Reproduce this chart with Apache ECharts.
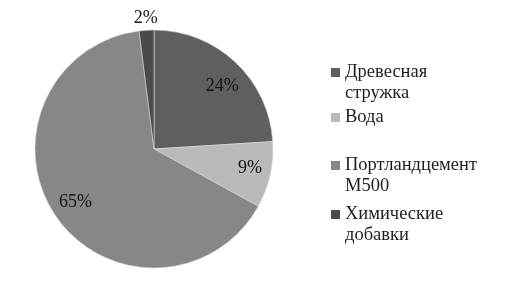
<!DOCTYPE html>
<html>
<head>
    <meta charset="utf-8">
    <script src="https://cdn.jsdelivr.net/npm/echarts@6/dist/echarts.min.js"></script>
</head>
<body style="margin:0;background:#fff">
    <div id="main" style="width:508px;height:296px;"></div>
    <script type="text/javascript">
        var names = ['Древесная стружка', 'Вода', 'Портландцемент M500', 'Химические добавки'];
        var legendText = ['Древесная\nстружка', 'Вода', 'Портландцемент\nM500', 'Химические\nдобавки'];
        var values = [24, 9, 65, 2];
        var colors = ['#5f5f5f', '#bababa', '#878787', '#4b4b4b'];

        var myChart = echarts.init(document.getElementById('main'));

        var cx = 154, cy = 149, R = 119;
        // label radius and small angle shift (deg): inside for big slices, outside for the small one
        var labelR = [93, 98, 95, 131];
        var labelShift = [4, -1, 0, 0];

        var legendTops = [41, 107, 134, 183];
        var legends = names.map(function (n, i) {
            var twoLines = legendText[i].indexOf('\n') >= 0;
            return {
                orient: 'vertical',
                left: 331,
                top: legendTops[i],
                padding: 0,
                data: [n],
                icon: 'rect',
                itemWidth: 9,
                itemHeight: 9,
                itemGap: 0,
                selectedMode: false,
                itemStyle: { borderWidth: 0 },
                // leading empty line keeps the icon level with the first line
                formatter: function () { return (twoLines ? '\n' : '') + legendText[i]; },
                textStyle: {
                    fontFamily: 'Liberation Serif',
                    fontSize: 18.5,
                    color: '#1e1e1e',
                    lineHeight: 21
                }
            };
        });

        var total = values.reduce(function (a, b) { return a + b; }, 0);

        option = {
            animation: false,
            color: colors,
            legend: legends,
            series: [{
                type: 'pie',
                center: [cx, cy],
                radius: R,
                startAngle: 90,
                clockwise: true,
                data: names.map(function (n, i) { return { name: n, value: values[i] }; }),
                itemStyle: { borderColor: '#d8d8d8', borderWidth: 0.6 },
                label: {
                    position: 'inside',
                    formatter: '{c}%',
                    fontFamily: 'Liberation Serif',
                    fontSize: 18,
                    color: '#141414'
                },
                labelLine: { show: false },
                labelLayout: function (params) {
                    var i = params.dataIndex;
                    var before = 0;
                    for (var k = 0; k < i; k++) before += values[k];
                    var a = (before + values[i] / 2) / total * Math.PI * 2 + labelShift[i] * Math.PI / 180;
                    return {
                        x: cx + labelR[i] * Math.sin(a),
                        y: cy - labelR[i] * Math.cos(a),
                        align: 'center',
                        verticalAlign: 'middle'
                    };
                },
                emphasis: { disabled: true }
            }]
        };
        myChart.setOption(option);
    </script>
</body>
</html>
